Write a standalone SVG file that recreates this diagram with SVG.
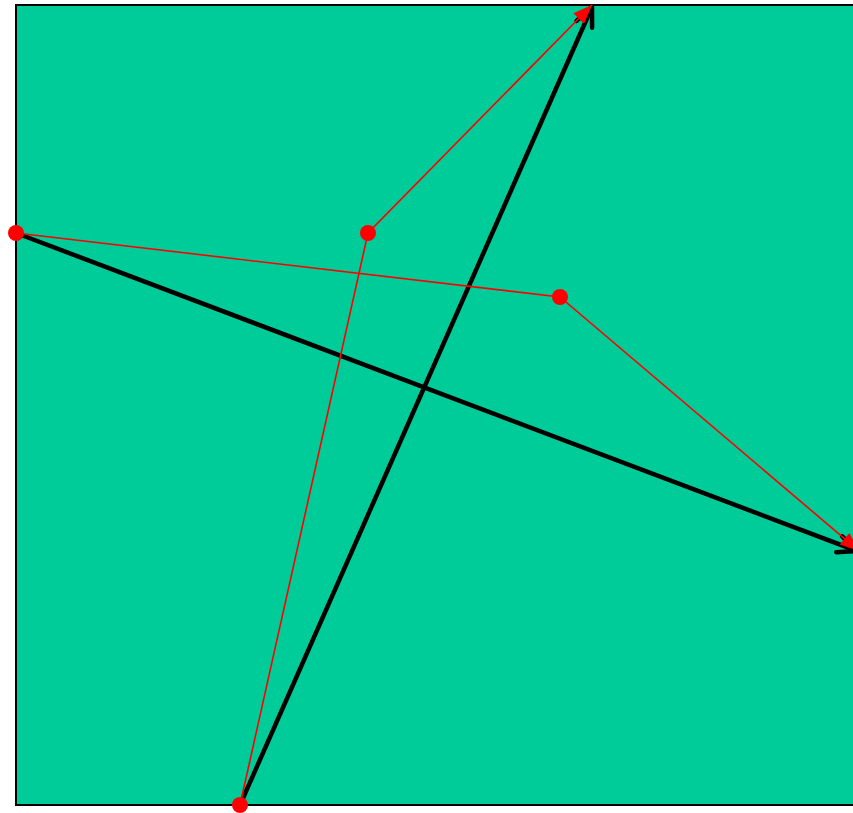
<svg xmlns="http://www.w3.org/2000/svg" width="853" height="813" viewBox="0 0 853 813">
<style>
.bg{fill:#00CC99;stroke:#000;stroke-width:2}
.blk{stroke:#000;stroke-width:4.5;fill:none}
.red{stroke:#FF0000;stroke-width:1.6;fill:none}
.dot{fill:#FF0000}
</style>
<defs>
<marker id="chev" markerUnits="userSpaceOnUse" viewBox="-26 -14 30 28" refX="0" refY="0" markerWidth="30" markerHeight="28" orient="auto">
<path d="M-19,-8.5 L0,0 L-19,8.5" stroke="#000" stroke-width="4.5" fill="none" stroke-linecap="round" stroke-linejoin="round"/>
</marker>
<marker id="tri" markerUnits="userSpaceOnUse" viewBox="-20 -9 22 18" refX="0" refY="0" markerWidth="22" markerHeight="18" orient="auto">
<path d="M0,0 L-19,-7.5 L-19,7.5 Z" fill="#FF0000"/>
</marker>
</defs>
<rect id="frame" class="bg" x="16" y="5" width="850" height="800"/>
<g id="connectors">
<line class="blk" x1="16" y1="233" x2="857" y2="551" marker-end="url(#chev)"/>
<line class="blk" x1="240" y1="805" x2="592" y2="7" marker-end="url(#chev)"/>
<polyline class="red" points="240,805 368,233 592,5" marker-end="url(#tri)"/>
<polyline class="red" points="16,233 560,297 859,551" marker-end="url(#tri)"/>
</g>
<g id="p1"><circle class="dot" cx="16" cy="233" r="8"/></g>
<g id="p2"><circle class="dot" cx="368" cy="233" r="8"/></g>
<g id="p3"><circle class="dot" cx="560" cy="297" r="8"/></g>
<g id="p4"><circle class="dot" cx="240" cy="805" r="8"/></g>
</svg>
